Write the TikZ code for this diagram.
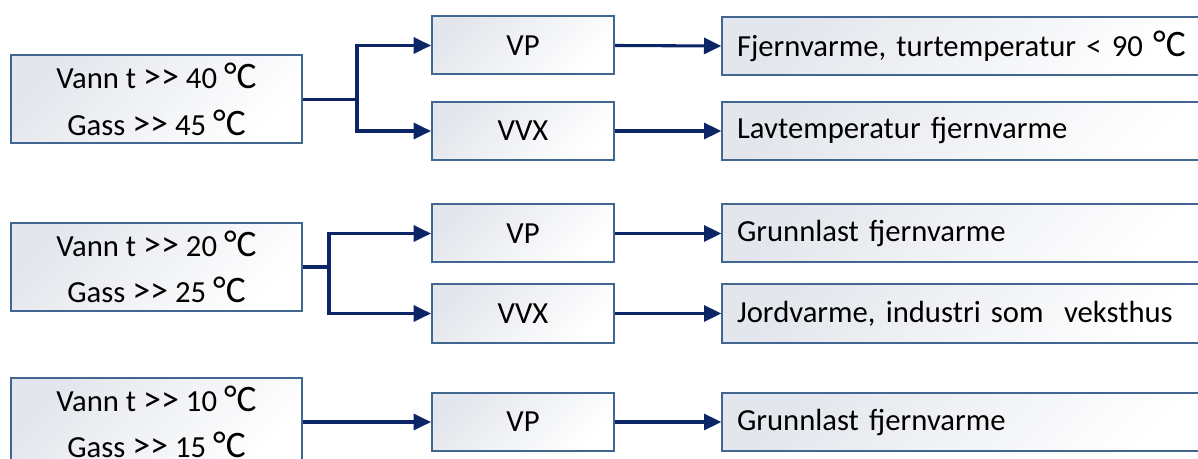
\documentclass[tikz,border=0pt]{standalone}
\usepackage{fontspec}
\setmainfont{Carlito}
\usetikzlibrary{arrows.meta}
\definecolor{edge}{HTML}{41668F}
\definecolor{boxfill}{HTML}{E3E6EC}
\definecolor{flow}{HTML}{0B2566}
\newcommand{\degC}{{\fontsize{28}{28}\selectfont °C}}
\newcommand{\dblgt}{{\fontsize{27}{27}\selectfont >{}>}}
\tikzset{
  box/.style={draw=edge, line width=1.5pt, top color=boxfill, bottom color=white,
    shading angle=45, font=\fontsize{23}{35}\selectfont, inner sep=0pt, align=center},
  srcbox/.style={box, minimum width=218.25pt, minimum height=66pt},
  unitbox/.style={box, minimum width=136.5pt, minimum height=43.5pt},
  usebox/.style={box, minimum width=370pt, minimum height=43.5pt,
    text width=348pt, align=left, inner xsep=11pt},
  arr/.style={draw=flow, line width=2.3pt, -{Triangle[length=13pt, width=12pt]}},
  ln/.style={draw=flow, line width=2.3pt}
}
\begin{document}
\begin{tikzpicture}[x=0.75pt, y=-0.75pt]
\useasboundingbox (0,0) rectangle (1198,459);
\clip (0,0) rectangle (1198,459);

% sources
\node[srcbox] (A1) at (156.5,99.5) {Vann t \dblgt{} 40 \degC\\Gass \dblgt{} 45 \degC};
\node[srcbox] (B1) at (156.5,267) {Vann t \dblgt{} 20 \degC\\Gass \dblgt{} 25 \degC};
\node[srcbox] (C1) at (156.5,422) {Vann t \dblgt{} 10 \degC\\Gass \dblgt{} 15 \degC};

% conversion units
\node[unitbox] (VP1)  at (523,45.5)  {VP};
\node[unitbox] (VVX1) at (523,131)   {VVX};
\node[unitbox] (VP2)  at (523,233.5) {VP};
\node[unitbox] (VVX2) at (523,313.5) {VVX};
\node[unitbox] (VP3)  at (523,422)   {VP};

% uses
\node[usebox] (U1) at (969,46)    {Fjernvarme, turtemperatur < 90 \degC};
\node[usebox] (U2) at (969,131)   {Lavtemperatur fjernvarme};
\node[usebox] (U3) at (969,233.5) {Grunnlast fjernvarme};
\node[usebox] (U4) at (969,313.5) {Jordvarme, industri som\ \ veksthus};
\node[usebox] (U5) at (969,422)   {Grunnlast fjernvarme};

% branching connectors
\coordinate (j1) at (357,99.5);
\coordinate (j2) at (329,267);
\draw[ln] (A1.east) -- (j1);
\draw[arr] (j1) |- (VP1.west);
\draw[arr] (j1) |- (VVX1.west);
\draw[ln] (B1.east) -- (j2);
\draw[arr] (j2) |- (VP2.west);
\draw[arr] (j2) |- (VVX2.west);
\draw[arr] (C1.east) -- (VP3.west);

% unit to use
\draw[arr] (VP1.east) -- (U1.west);
\draw[arr] (VVX1.east) -- (U2.west);
\draw[arr] (VP2.east) -- (U3.west);
\draw[arr] (VVX2.east) -- (U4.west);
\draw[arr] (VP3.east) -- (U5.west);
\end{tikzpicture}
\end{document}
